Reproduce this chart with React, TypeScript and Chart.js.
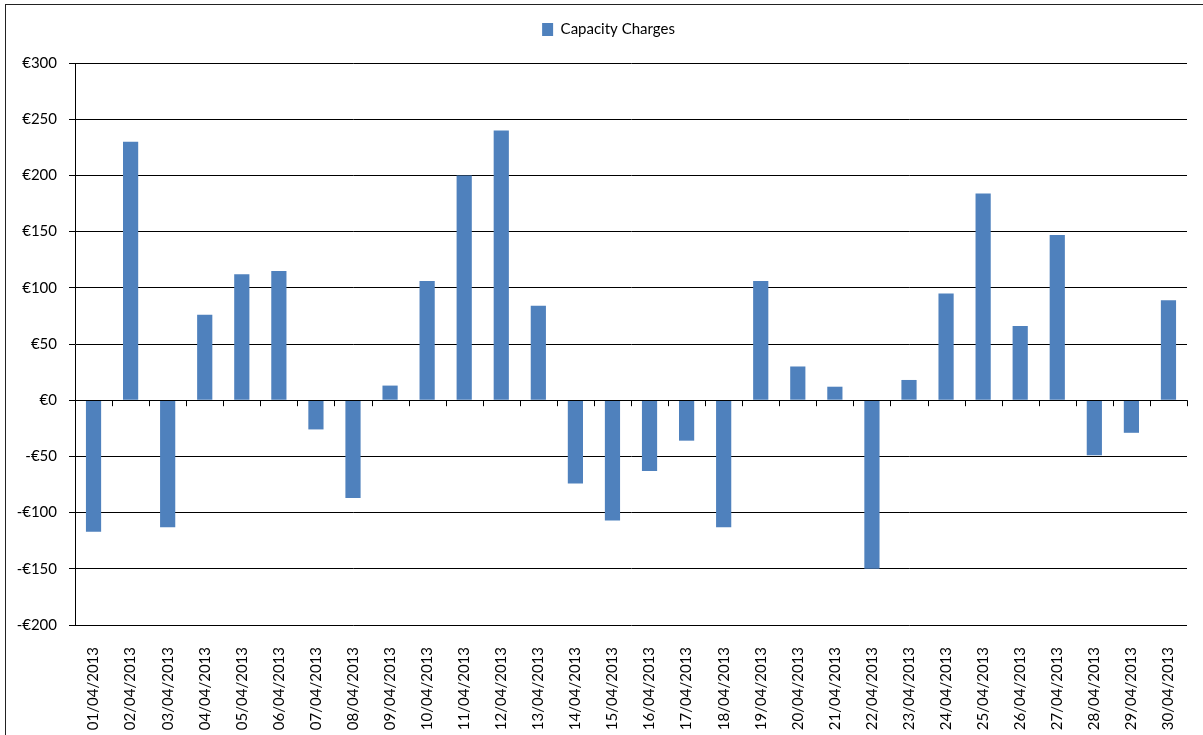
import React, { useEffect, useRef } from "react";
import { Chart, registerables } from "chart.js";

Chart.register(...registerables);

const categories = [
  "01/04/2013", "02/04/2013", "03/04/2013", "04/04/2013", "05/04/2013",
  "06/04/2013", "07/04/2013", "08/04/2013", "09/04/2013", "10/04/2013",
  "11/04/2013", "12/04/2013", "13/04/2013", "14/04/2013", "15/04/2013",
  "16/04/2013", "17/04/2013", "18/04/2013", "19/04/2013", "20/04/2013",
  "21/04/2013", "22/04/2013", "23/04/2013", "24/04/2013", "25/04/2013",
  "26/04/2013", "27/04/2013", "28/04/2013", "29/04/2013", "30/04/2013",
];

const capacityCharges = [
  -117, 230, -113, 76, 112, 115, -26, -87, 13, 106,
  200, 240, 84, -74, -107, -63, -36, -113, 106, 30,
  12, -150, 18, 95, 184, 66, 147, -49, -29, 89,
];

const seriesName = "Capacity Charges";
const yMin = -200;
const yMax = 300;
const yStep = 50;

const FONT = "Lato, 'Open Sans', 'DejaVu Sans', sans-serif";

const zeroTicks = {
  id: "zeroTicks",
  afterDatasetsDraw(chart: any) {
    const { ctx, scales, chartArea } = chart;
    const y = scales.y;
    const y0 = y.getPixelForValue(0);
    const n = categories.length;
    const w = (chartArea.right - chartArea.left) / n;
    ctx.save();
    ctx.strokeStyle = "#000";
    ctx.lineWidth = 1;
    ctx.beginPath();
    ctx.moveTo(chartArea.left, Math.round(y0) + 0.5);
    ctx.lineTo(chartArea.right, Math.round(y0) + 0.5);
    for (let i = 1; i <= n; i++) {
      const px = Math.round(chartArea.left + i * w) + 0.5;
      ctx.moveTo(px, y0);
      ctx.lineTo(px, y0 + 6);
    }
    ctx.stroke();
    ctx.restore();
  },
};

const legendGap = {
  id: "legendGap",
  afterInit(chart: any) {
    const lg = chart.legend;
    if (!lg || lg.__patched) return;
    const orig = lg.fit.bind(lg);
    lg.fit = function () {
      orig();
      this.height += 16;
    };
    lg.__patched = true;
  },
  afterLayout(chart: any) {
    const lg = chart.legend;
    if (!lg) return;
    lg.left += 15;
    lg.right += 15;
  },
};

export default function App() {
  const ref = useRef<HTMLCanvasElement | null>(null);

  useEffect(() => {
    if (!ref.current) return;
    const chart = new Chart(ref.current, {
      type: "bar",
      data: {
        labels: categories,
        datasets: [
          {
            label: seriesName,
            data: capacityCharges,
            backgroundColor: "#4F81BD",
            borderWidth: 0,
            barPercentage: 0.41,
            categoryPercentage: 1,
          },
        ],
      },
      options: {
        animation: false,
        responsive: false,
        maintainAspectRatio: false,
        layout: { padding: { top: 10, right: 16, bottom: 0, left: 0 } },
        plugins: {
          legend: {
            display: true,
            position: "top",
            labels: {
              color: "#000",
              font: { family: FONT, size: 15 },
              boxWidth: 11,
              boxHeight: 13,
              padding: 12,
            },
          },
          tooltip: { enabled: false },
        },
        scales: {
          x: {
            grid: { display: false },
            border: { display: false },
            ticks: {
              autoSkip: false,
              minRotation: 90,
              maxRotation: 90,
              color: "#000",
              padding: 14,
              font: { family: FONT, size: 15 },
            },
            afterFit(scale: any) {
              scale.height = 110;
            },
          },
          y: {
            min: yMin,
            max: yMax,
            ticks: {
              stepSize: yStep,
              color: "#000",
              padding: 12,
              font: { family: FONT, size: 15 },
              callback: (v: any) => (v < 0 ? "-€" + Math.abs(v) : "€" + v),
            },
            grid: {
              color: "#000",
              lineWidth: 1,
              tickLength: 6,
              tickColor: "#000",
            },
            border: { display: true, color: "#000", width: 1 },
            afterFit(scale: any) {
              scale.width = 75;
            },
          },
        },
      },
      plugins: [zeroTicks, legendGap],
    });
    return () => chart.destroy();
  }, []);

  return (
    <div style={{ position: "absolute", left: 0, top: 0, width: 1203, height: 735, background: "#fff", overflow: "hidden" }}>
      <div
        style={{
          position: "absolute",
          left: 5,
          top: 4,
          width: 1198,
          height: 731,
          borderLeft: "1.5px solid #222",
          borderTop: "1.5px solid #222",
          boxSizing: "border-box",
        }}
      />
      <canvas ref={ref} width={1203} height={735} style={{ position: "absolute", left: 0, top: 0 }} />
    </div>
  );
}
